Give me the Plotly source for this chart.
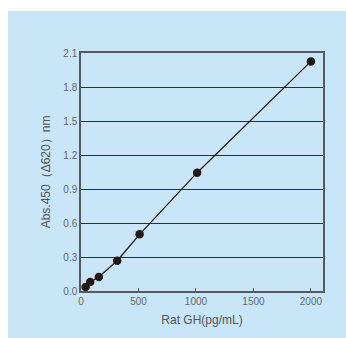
import plotly.graph_objects as go

# Data
conc_pg_ml = [40, 80, 155, 315, 510, 1010, 2000]
absorbance = [0.035, 0.079, 0.124, 0.267, 0.50, 1.044, 2.026]
x_ticks = [0, 500, 1000, 1500, 2000]
y_ticks = [0.0, 0.3, 0.6, 0.9, 1.2, 1.5, 1.8, 2.1]

W, H = 346, 338
L, R, T, B = 81, 23, 53, 47
pw, ph = W - L - R, H - T - B
BLUE = "#c9e6f8"

fig = go.Figure()
fig.add_trace(go.Scatter(
    x=conc_pg_ml, y=absorbance, mode="lines+markers",
    line=dict(color="#231815", width=1.3),
    marker=dict(color="#231815", size=8.5),
    showlegend=False, hoverinfo="skip",
))

# white strips (top and left) outside the blue panel
fig.add_shape(type="rect", xref="paper", yref="paper", layer="below",
              x0=-L / pw - 0.1, x1=(W - L) / pw + 0.1,
              y0=1 + (T - 11) / ph, y1=1 + T / ph + 0.1,
              fillcolor="white", line=dict(width=0))
fig.add_shape(type="rect", xref="paper", yref="paper", layer="below",
              x0=-L / pw - 0.1, x1=(8 - L) / pw,
              y0=-B / ph - 0.1, y1=1 + T / ph + 0.1,
              fillcolor="white", line=dict(width=0))

font = "Liberation Sans, Arial, sans-serif"
fig.update_layout(
    width=W, height=H,
    margin=dict(l=L, r=R, t=T, b=B),
    paper_bgcolor=BLUE, plot_bgcolor="rgba(0,0,0,0)",
    font=dict(family=font, color="#555555"),
    xaxis=dict(range=[0, 2105], tickvals=x_ticks, ticktext=[str(v) for v in x_ticks],
               showgrid=False, zeroline=False, showline=True, mirror=True,
               linecolor="#555a60", linewidth=1.5,
               ticks="inside", ticklen=3, tickcolor="#555a60", tickwidth=1,
               tickfont=dict(size=10, color="#666666"),
               title=dict(text="Rat GH(pg/mL)", font=dict(size=12, color="#555555"), standoff=10)),
    yaxis=dict(range=[0, 2.1], tickvals=y_ticks, ticktext=[f"{v:.1f}" for v in y_ticks],
               showgrid=True, gridcolor="#2f2f2f", gridwidth=1, zeroline=False,
               showline=True, mirror=True, linecolor="#555a60", linewidth=1.5,
               ticks="", tickfont=dict(size=10, color="#666666"),
               title=dict(text="Abs.450（Δ620）nm", font=dict(size=12, color="#555555"), standoff=10)),
)

fig.write_html("out.html", config={"displayModeBar": False},
               post_script="document.body.style.margin='0';document.body.style.background='" + BLUE + "';")
